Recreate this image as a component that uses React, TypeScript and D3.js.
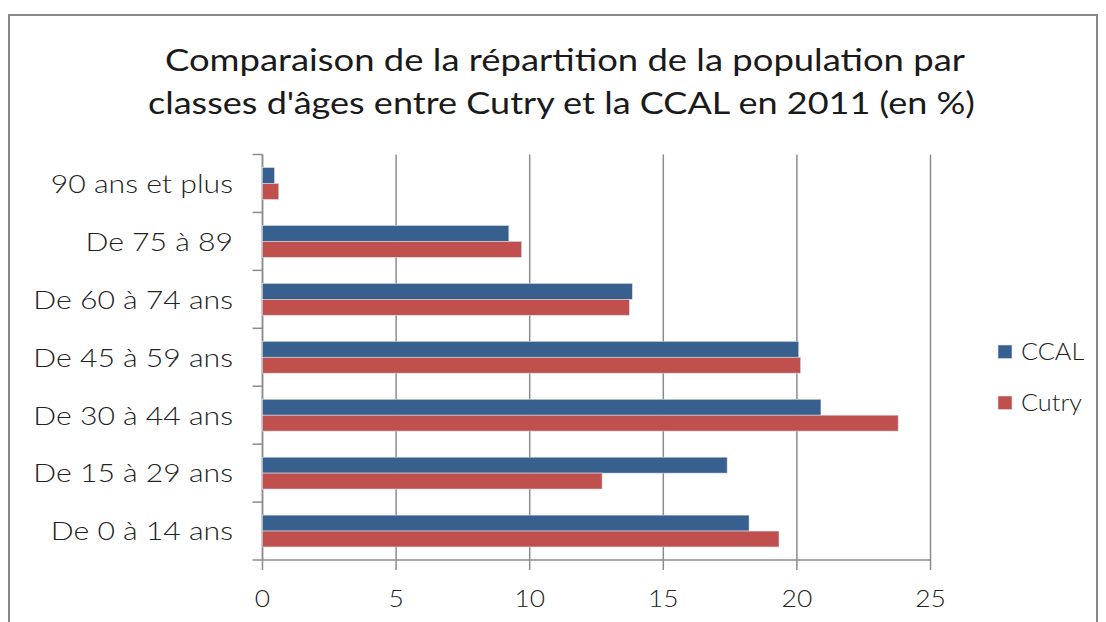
import React from "react";
import * as d3 from "d3";

const categories = [
  "90 ans et plus",
  "De 75 à 89",
  "De 60 à 74 ans",
  "De 45 à 59 ans",
  "De 30 à 44 ans",
  "De 15 à 29 ans",
  "De 0 à 14 ans",
];
const seriesNames = ["CCAL", "Cutry"];
const ccal = [0.45, 9.22, 13.84, 20.07, 20.9, 17.39, 18.21];
const cutry = [0.61, 9.7, 13.73, 20.14, 23.79, 12.71, 19.33];
const xTicks = [0, 5, 10, 15, 20, 25];
const titleLines = [
  "Comparaison de la répartition de la population par",
  "classes d'âges entre Cutry et la CCAL en 2011 (en %)",
];
const colors = ["#37608F", "#C0504D"];

const W = 1106;
const H = 622;
const FONT = "Lato, 'DejaVu Sans', sans-serif";

export default function App() {
  const left = 262.5;
  const right = 930.5;
  const top = 154.5;
  const bottom = 560;
  const x = d3.scaleLinear().domain([0, 25]).range([left, right]);
  const y = d3.scaleBand<string>().domain(categories).range([top, bottom]).paddingInner(0.45).paddingOuter(0.225);
  const inner = d3.scaleBand<string>().domain(seriesNames).range([0, y.bandwidth()]);
  const bandStep = (bottom - top) / categories.length;
  const boundaries = d3.range(categories.length + 1).map((i) => top + i * bandStep);
  const data = [ccal, cutry];
  const titleX = [565, 561.5];
  const titleLen = [800, 827];

  return (
    <div style={{ position: "absolute", left: 0, top: 0 }}>
      <svg width={W} height={H} style={{ display: "block", background: "#fff" }}>
        <rect x={9} y={15} width={1088} height={640} fill="#fff" stroke="#8a8a8a" strokeWidth={2} />
        {titleLines.map((t, i) => (
          <text
            key={i}
            x={titleX[i]}
            y={71 + i * 43}
            textAnchor="middle"
            fontFamily={FONT}
            fontSize={30}
            fill="#1a1a1a"
            textLength={titleLen[i]}
            lengthAdjust="spacingAndGlyphs"
          >
            {t}
          </text>
        ))}
        {/* gridlines */}
        {xTicks.map((t) => (
          <line key={"g" + t} x1={x(t)} x2={x(t)} y1={top} y2={bottom + 10} stroke="#8c8c8c" strokeWidth={1.5} />
        ))}
        {/* category axis */}
        <line x1={left} x2={left} y1={top} y2={bottom} stroke="#8c8c8c" strokeWidth={1.5} />
        {boundaries.map((b, i) => (
          <line key={"b" + i} x1={left - 10} x2={left} y1={b} y2={b} stroke="#8c8c8c" strokeWidth={1.5} />
        ))}
        <line x1={left} x2={right} y1={bottom} y2={bottom} stroke="#8c8c8c" strokeWidth={1.5} />
        {/* bars */}
        {categories.map((c, ci) =>
          seriesNames.map((s, si) => (
            <rect
              key={c + s}
              x={x(0)}
              y={(y(c) as number) + (inner(s) as number)}
              width={x(data[si][ci]) - x(0)}
              height={inner.bandwidth()}
              fill={colors[si]}
              stroke="#d9e0ea"
              strokeWidth={0.6}
            />
          ))
        )}
        {/* category labels */}
        {categories.map((c) => (
          <g key={"l" + c} transform={`translate(233, ${(y(c) as number) + y.bandwidth() / 2}) scale(1.16, 1)`}>
            <text
              x={0}
              y={0}
              dy="0.36em"
              textAnchor="end"
              fontFamily={FONT}
              fontWeight={300}
              fontSize={26}
              fill="#222"
            >
              {c}
            </text>
          </g>
        ))}
        {/* x tick labels */}
        {xTicks.map((t) => (
          <g key={"t" + t} transform={`translate(${x(t)}, 598) scale(1.1, 1)`}>
            <text
              x={0}
              y={0}
              dy="0.36em"
              textAnchor="middle"
              fontFamily={FONT}
              fontWeight={300}
              fontSize={24}
              fill="#222"
            >
              {t}
            </text>
          </g>
        ))}
        {/* legend */}
        {seriesNames.map((s, i) => (
          <g key={"lg" + s} transform={`translate(998, ${345 + i * 51})`}>
            <rect width={14} height={13.5} fill={colors[i]} stroke="#d9e0ea" strokeWidth={0.6} />
            <g transform="translate(23, 7) scale(1.1, 1)">
              <text x={0} y={0} dy="0.36em" fontFamily={FONT} fontWeight={300} fontSize={23} fill="#222">
                {s}
              </text>
            </g>
          </g>
        ))}
      </svg>
    </div>
  );
}
